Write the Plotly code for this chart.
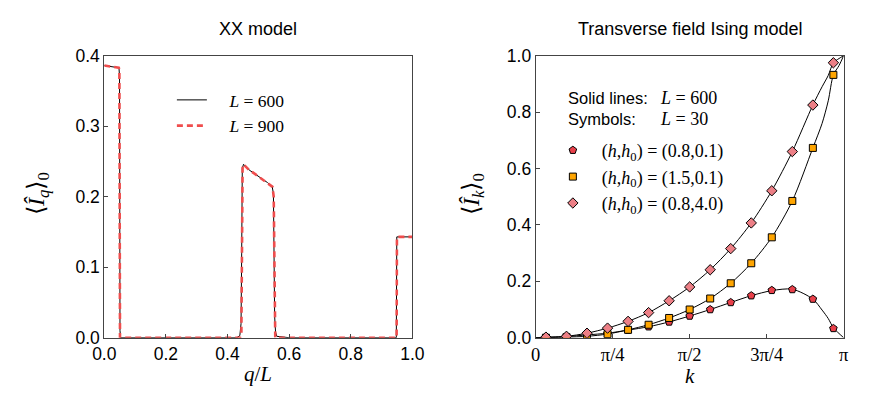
import numpy as np
import plotly.graph_objects as go

# ---------------- Data: XX model (left panel) ----------------
q_600 = [0.0, 0.02, 0.04, 0.046, 0.048, 0.0495, 0.051, 0.053, 0.1, 0.3, 0.43, 0.44, 0.444, 0.446, 0.448,
         0.452, 0.47, 0.49, 0.51, 0.53, 0.545, 0.549, 0.551, 0.553, 0.556, 0.56, 0.6, 0.8, 0.948, 0.9495, 0.951, 0.97, 1.0]
I_600 = [0.386, 0.385, 0.384, 0.383, 0.381, 0.37, 0.01, 0.0, 0.0, 0.0, 0.0, 0.003, 0.02, 0.12, 0.24,
         0.246, 0.238, 0.232, 0.226, 0.22, 0.214, 0.205, 0.12, 0.03, 0.008, 0.002, 0.0, 0.0, 0.0, 0.143, 0.143, 0.143, 0.143]

q_900 = [0.0, 0.02, 0.04, 0.047, 0.049, 0.05, 0.051, 0.1, 0.3, 0.44, 0.445, 0.447, 0.449,
         0.452, 0.47, 0.49, 0.51, 0.53, 0.546, 0.55, 0.552, 0.555, 0.6, 0.8, 0.949, 0.95, 0.97, 1.0]
I_900 = [0.386, 0.385, 0.384, 0.383, 0.381, 0.2, 0.0, 0.0, 0.0, 0.0, 0.005, 0.12, 0.243,
         0.246, 0.238, 0.232, 0.226, 0.22, 0.214, 0.2, 0.1, 0.0, 0.0, 0.0, 0.0, 0.143, 0.143, 0.143]

# ---------------- Data: Transverse field Ising model (right panel) ----------------
# symbols (L = 30): k / pi
k_sym_over_pi = [1/30, 3/30, 5/30, 7/30, 9/30, 11/30, 13/30, 15/30, 17/30, 19/30,
                 21/30, 23/30, 25/30, 27/30, 29/30]
I_sym_a = [0.001, 0.004, 0.010, 0.015, 0.027, 0.039, 0.056, 0.077, 0.100, 0.125,
           0.149, 0.168, 0.171, 0.137, 0.033]          # (h,h0)=(0.8,0.1)
I_sym_b = [0.000, 0.002, 0.005, 0.013, 0.028, 0.046, 0.070, 0.100, 0.139, 0.193,
           0.264, 0.356, 0.485, 0.673, 0.932]          # (h,h0)=(1.5,0.1)
I_sym_c = [0.002, 0.005, 0.016, 0.034, 0.058, 0.089, 0.131, 0.180, 0.241, 0.316,
           0.407, 0.521, 0.660, 0.825, 0.975]          # (h,h0)=(0.8,4.0)

# solid lines (L = 600): k / pi
k_line_over_pi = [0.0, 1/30, 3/30, 5/30, 7/30, 9/30, 11/30, 13/30, 15/30, 17/30, 19/30,
                  21/30, 23/30, 25/30, 27/30, 0.93, 0.95, 29/30, 0.985, 1.0]
I_line_a = [0.0, 0.001, 0.004, 0.010, 0.016, 0.027, 0.039, 0.056, 0.077, 0.100, 0.125,
            0.149, 0.167, 0.172, 0.137, 0.098, 0.068, 0.035, 0.015, 0.0]
I_line_b = [0.0, 0.000, 0.002, 0.005, 0.013, 0.028, 0.046, 0.070, 0.100, 0.139, 0.193,
            0.264, 0.356, 0.485, 0.673, 0.76, 0.84, 0.932, 0.965, 1.0]
I_line_c = [0.0, 0.002, 0.005, 0.016, 0.034, 0.058, 0.089, 0.131, 0.180, 0.241, 0.316,
            0.407, 0.521, 0.660, 0.825, 0.89, 0.93, 0.975, 0.99, 1.0]

k_sym = [np.pi * f for f in k_sym_over_pi]
k_line = [np.pi * f for f in k_line_over_pi]

k_tickvals = [0, np.pi / 4, np.pi / 2, 3 * np.pi / 4, np.pi]
k_ticktext = ["0", "π/4", "π/2", "3π/4", "π"]

SANS = "Liberation Sans, Arial, sans-serif"
SERIF = "Liberation Serif, Times New Roman, serif"
AXC = "#444444"
NB = "\u00a0"
EQ = "\u00a0=\u00a0"

fig = go.Figure()

# ---- left panel ----
fig.add_trace(go.Scatter(x=q_600, y=I_600, mode="lines", name=NB * 4 + "<i>L</i>" + EQ + "600",
                         line=dict(color="black", width=1), xaxis="x", yaxis="y",
                         legend="legend"))
fig.add_trace(go.Scatter(x=q_900, y=I_900, mode="lines", name=NB * 4 + "<i>L</i>" + EQ + "900",
                         line=dict(color="#f04d4d", width=2.6, dash="6px,4px"),
                         xaxis="x", yaxis="y", legend="legend"))

# ---- right panel: lines ----
for yv in (I_line_a, I_line_b, I_line_c):
    fig.add_trace(go.Scatter(x=k_line, y=yv, mode="lines", showlegend=False,
                             line=dict(color="black", width=1, shape="spline", smoothing=0.8),
                             xaxis="x2", yaxis="y2"))

# ---- right panel: symbols ----
sym_specs = [
    (I_sym_a, "pentagon", "#e8404a", 8, "(0.8,0.1)"),
    (I_sym_b, "square", "#ffa500", 7, "(1.5,0.1)"),
    (I_sym_c, "diamond", "#ec7f86", 8, "(0.8,4.0)"),
]
for yv, sym, col, sz, pair in sym_specs:
    nm = NB * 2 + "(<i>h</i>,<i>h</i><sub>0</sub>)" + EQ + pair
    fig.add_trace(go.Scatter(x=k_sym, y=yv, mode="markers", name=nm,
                             marker=dict(symbol=sym, color=col, size=sz,
                                         line=dict(color="black", width=1)),
                             xaxis="x2", yaxis="y2", legend="legend2"))

axis_common = dict(showline=True, linecolor=AXC, linewidth=1, mirror=True,
                   ticks="inside", ticklen=4, tickcolor=AXC, showgrid=False, zeroline=False,
                   tickfont=dict(family=SANS, size=17.5, color="black"))

fig.update_layout(
    width=886, height=399,
    margin=dict(l=0, r=0, t=0, b=0, autoexpand=False),
    paper_bgcolor="white", plot_bgcolor="white",
    hovermode=False,
    xaxis=dict(domain=[0.1177, 0.4654], range=[0, 1], tickvals=[0, 0.2, 0.4, 0.6, 0.8, 1.0],
               tickformat=".1f", anchor="y", automargin=False, **axis_common),
    yaxis=dict(domain=[0.1536, 0.8604], range=[0, 0.4], tickvals=[0, 0.1, 0.2, 0.3, 0.4],
               tickformat=".1f", anchor="x", automargin=False, **axis_common),
    xaxis2=dict(domain=[0.6046, 0.9522], range=[0, np.pi], tickvals=k_tickvals,
                ticktext=k_ticktext, anchor="y2", automargin=False,
                **{**axis_common, "tickfont": dict(family=SERIF, size=18.5, color="black")}),
    yaxis2=dict(domain=[0.1536, 0.8604], range=[0, 1.0], tickvals=[0, 0.2, 0.4, 0.6, 0.8, 1.0],
                tickformat=".1f", anchor="x2", automargin=False, **axis_common),
    showlegend=True,
    legend=dict(x=0.194, y=1 - 82 / 399, xanchor="left", yanchor="top", bgcolor="rgba(0,0,0,0)",
                font=dict(family=SERIF, size=17.5, color="black"), tracegroupgap=0),
    legend2=dict(x=0.624, y=1 - 132 / 399, xanchor="left", yanchor="top", bgcolor="rgba(0,0,0,0)",
                 font=dict(family=SERIF, size=18, color="black"), tracegroupgap=0,
                 itemwidth=30),
)

ann = [
    dict(text="XX model", x=0.2915, y=1 - 29 / 399, font=dict(family=SANS, size=18)),
    dict(text="Transverse field Ising model", x=0.7784, y=1 - 29 / 399, font=dict(family=SANS, size=18)),
    dict(text="<i>q</i>/<i>L</i>", x=0.2915, y=1 - 374 / 399, font=dict(family=SERIF, size=21)),
    dict(text="<i>k</i>", x=0.7784, y=1 - 376 / 399, font=dict(family=SERIF, size=21)),
    dict(text="⟨<i>Î</i><sub><i>q</i></sub>⟩<sub>0</sub>", x=38 / 886, y=1 - 194 / 399,
         textangle=-90, font=dict(family=SERIF, size=24)),
    dict(text="⟨<i>Î</i><sub><i>k</i></sub>⟩<sub>0</sub>", x=473 / 886, y=1 - 194 / 399,
         textangle=-90, font=dict(family=SERIF, size=24)),
    dict(text="Solid lines:", x=566 / 886, y=1 - 98 / 399, xanchor="left",
         font=dict(family=SANS, size=16.5)),
    dict(text="<i>L</i>" + EQ + "600", x=658 / 886, y=1 - 98 / 399, xanchor="left",
         font=dict(family=SERIF, size=18)),
    dict(text="Symbols:", x=566 / 886, y=1 - 119 / 399, xanchor="left",
         font=dict(family=SANS, size=16.5)),
    dict(text="<i>L</i>" + EQ + "30", x=658 / 886, y=1 - 119 / 399, xanchor="left",
         font=dict(family=SERIF, size=18)),
]
for a in ann:
    a.setdefault("xanchor", "center")
    a.update(xref="paper", yref="paper", yanchor="middle", showarrow=False)
    a["font"].setdefault("color", "black")
fig.update_layout(annotations=ann)

fig.write_html("out.html", config={"displayModeBar": False},
               post_script="document.body.style.margin='0px';")
